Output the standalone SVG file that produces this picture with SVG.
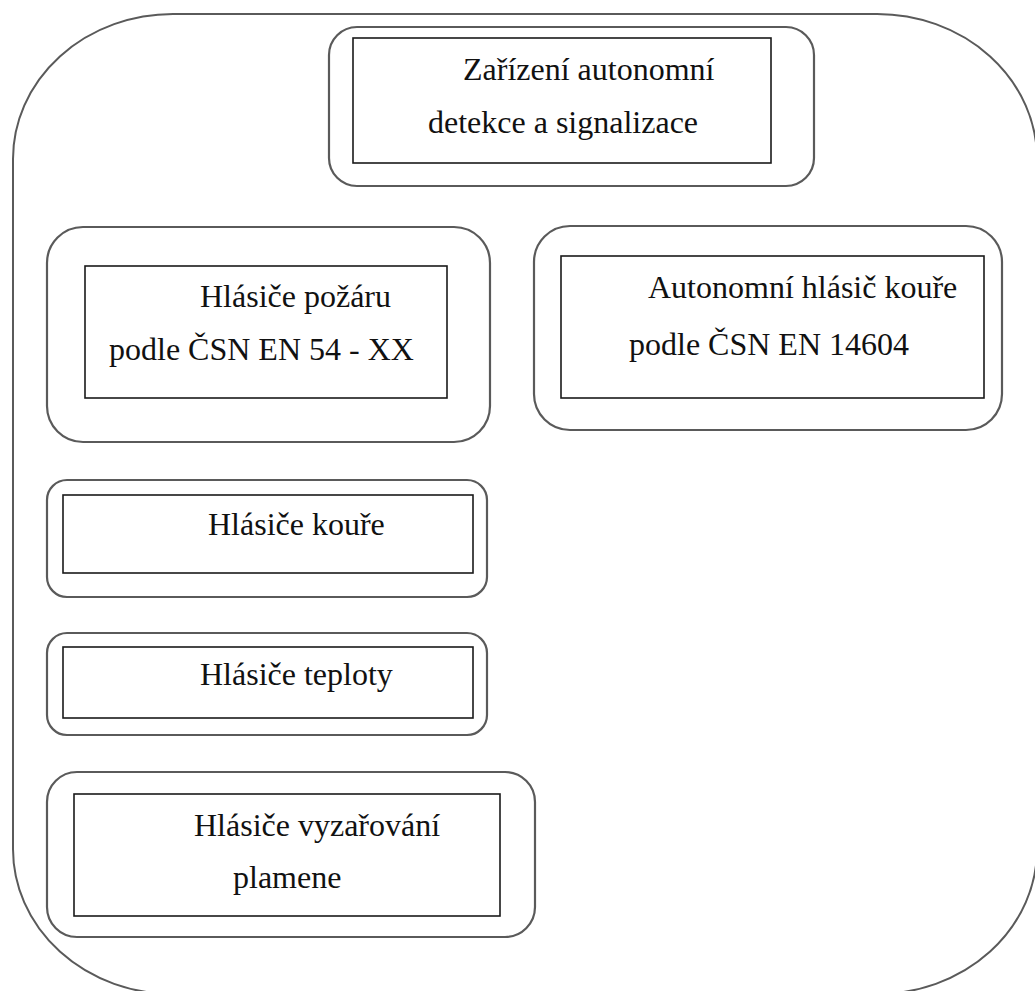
<svg xmlns="http://www.w3.org/2000/svg" width="1035" height="991" viewBox="0 0 1035 991">
<style>
.outer{fill:none;stroke:#5a5a5a;stroke-width:2}
.frame{fill:#fff;stroke:#5a5a5a;stroke-width:2.2}
.inner{fill:#fff;stroke:#1a1a1a;stroke-width:1.6}
.t{font-family:"Liberation Serif","Times New Roman",serif;font-size:32px;fill:#111}
</style>
<rect width="1035" height="991" fill="#fff"/>
<rect id="container" class="outer" x="13" y="14" width="1024" height="980" rx="160" ry="145"/>
<g id="connectors"></g>
<g id="node-top">
<rect class="frame" x="329" y="27" width="485" height="159" rx="28"/>
<rect class="inner" x="353" y="38" width="418" height="125"/>
<text class="t" x="463" y="80">Zařízení autonomní</text>
<text class="t" x="428" y="133">detekce a signalizace</text>
</g>
<g id="node-en54">
<rect class="frame" x="47" y="227" width="443" height="215" rx="36"/>
<rect class="inner" x="85" y="266" width="362" height="132"/>
<text class="t" x="200" y="307">Hlásiče požáru</text>
<text class="t" x="109" y="360">podle ČSN EN 54 - XX</text>
</g>
<g id="node-14604">
<rect class="frame" x="534" y="226" width="468" height="204" rx="36"/>
<rect class="inner" x="561" y="256" width="423" height="142"/>
<text class="t" x="648" y="298">Autonomní hlásič kouře</text>
<text class="t" x="629" y="355">podle ČSN EN 14604</text>
</g>
<g id="node-smoke">
<rect class="frame" x="47" y="480" width="440" height="117" rx="20"/>
<rect class="inner" x="63" y="495" width="410" height="78"/>
<text class="t" x="208" y="535">Hlásiče kouře</text>
</g>
<g id="node-heat">
<rect class="frame" x="47" y="633" width="440" height="102" rx="20"/>
<rect class="inner" x="63" y="647" width="410" height="71"/>
<text class="t" x="200" y="685">Hlásiče teploty</text>
</g>
<g id="node-flame">
<rect class="frame" x="47" y="772" width="488" height="165" rx="30"/>
<rect class="inner" x="74" y="794" width="426" height="122"/>
<text class="t" x="194" y="836">Hlásiče vyzařování</text>
<text class="t" x="233" y="888">plamene</text>
</g>
</svg>
